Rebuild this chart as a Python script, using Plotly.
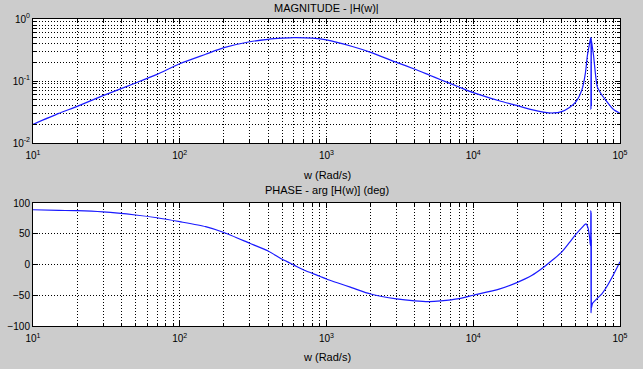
import plotly.graph_objects as go

# ---- data ----
w_mag = [10, 15, 20, 30, 50, 70, 100, 150, 200, 300, 400, 500, 600, 800, 1000,
         1500, 2000, 3000, 4000, 5000, 6000, 8000, 10000, 15000, 20000, 25000, 30000,
         35000, 40000, 45000, 50000, 55000, 58000, 60000, 62000, 63000, 63300, 63400, 63500,
         63600, 63700, 63800, 63900, 64500, 66000, 70000, 75000, 80000, 90000, 100000]
mag = [0.020, 0.030, 0.039, 0.058, 0.093, 0.128, 0.19, 0.27, 0.345, 0.43, 0.47,
       0.49, 0.50, 0.49, 0.46, 0.36, 0.29, 0.20, 0.155, 0.125, 0.105, 0.080,
       0.065, 0.048, 0.040, 0.0345, 0.0315, 0.0305, 0.032, 0.037, 0.046, 0.072, 0.13, 0.26, 0.40, 0.48,
       0.50, 0.035, 0.50, 0.30, 0.49, 0.04, 0.45, 0.38, 0.26, 0.081, 0.060, 0.049,
       0.035, 0.030]

w_ph = [10, 15, 20, 30, 50, 70, 100, 150, 200, 300, 400, 500, 600, 700, 900,
        1000, 1500, 2000, 3000, 4000, 5000, 6000, 8000, 10000, 15000, 20000,
        25000, 30000, 35000, 40000, 45000, 50000, 55000, 58500, 60500, 62000, 63000, 63300, 63500,
        63600, 63700, 63800, 63900, 64200, 65000, 66500, 70000, 75000, 80000, 90000,
        100000]
phase = [89, 88, 87.5, 85.5, 80.5, 76, 69.6, 61.5, 52, 34.5, 22, 8.4, -1, -9,
         -19, -23.6, -38, -48, -56, -59.3, -60.5, -59.3, -55.5, -50, -40, -29,
         -18, -5, 8, 20, 35, 49, 60, 66, 60, 45, 30, 88, -79, 85, -75, 40, -70, -68, -63,
         -60.5, -55, -48, -38.7, -17, 4.5]

x_tickvals = [10, 100, 1000, 10000, 100000]
x_ticktext = ["10<sup>1</sup>", "10<sup>2</sup>", "10<sup>3</sup>", "10<sup>4</sup>", "10<sup>5</sup>"]
ymag_tickvals = [0.01, 0.1, 1]
ymag_ticktext = ["10<sup>-2</sup>", "10<sup>-1</sup>", "10<sup>0</sup>"]
yph_tickvals = [-100, -50, 0, 50, 100]

title_mag = "MAGNITUDE - |H(w)|"
title_ph = "PHASE - arg [H(w)] (deg)"
xlabel = "w (Rad/s)"

LINE = "#1a1aff"
FONT = "Liberation Sans, Arial, sans-serif"
DASH = "1px,2px"
BG = "#cccccc"

fig = go.Figure()
fig.add_trace(go.Scatter(x=w_mag, y=mag, mode="lines",
                         line=dict(color=LINE, width=1.2, shape="spline", smoothing=0.6),
                         xaxis="x", yaxis="y", showlegend=False))
fig.add_trace(go.Scatter(x=w_ph, y=phase, mode="lines",
                         line=dict(color=LINE, width=1.2, shape="spline", smoothing=0.6),
                         xaxis="x2", yaxis="y2", showlegend=False))

common = dict(showline=True, linecolor="black", linewidth=1, mirror="ticks",
              ticks="inside", ticklen=5, tickcolor="black", automargin=False,
              showgrid=True, gridcolor="black", gridwidth=1, griddash=DASH,
              zeroline=False, tickfont=dict(size=10, color="black", family=FONT))

logminor = dict(ticks="inside", ticklen=3, tickcolor="black", showgrid=True,
                gridcolor="black", griddash=DASH, gridwidth=1, dtick="D1")

top_dom = [1 - 124 / 307, 1]
bot_dom = [0, 123 / 307]

fig.update_layout(
    width=643, height=369,
    margin=dict(l=33, r=23, t=19, b=43, autoexpand=False),
    paper_bgcolor=BG, plot_bgcolor="white",
    font=dict(family=FONT, size=10, color="black"),
    xaxis=dict(type="log", range=[1, 5], domain=[0, 1], anchor="y", ticklabelstandoff=3,
               tickvals=x_tickvals, ticktext=x_ticktext, minor=logminor, **common),
    yaxis=dict(type="log", range=[-2, 0], domain=top_dom, anchor="x",
               tickvals=ymag_tickvals, ticktext=ymag_ticktext, minor=logminor, **common),
    xaxis2=dict(type="log", range=[1, 5], domain=[0, 1], anchor="y2", ticklabelstandoff=3,
                tickvals=x_tickvals, ticktext=x_ticktext, minor=logminor, **common),
    yaxis2=dict(range=[-100, 100], domain=bot_dom, anchor="x2",
                tickvals=yph_tickvals, **common),
    annotations=[
        dict(text=title_mag, x=0.5, y=1 + 11 / 307, xref="paper", yref="paper",
             showarrow=False, font=dict(size=11), xanchor="center", yanchor="middle"),
        dict(text=xlabel, x=0.5, y=(326 - 175) / 307, xref="paper", yref="paper",
             showarrow=False, font=dict(size=11), xanchor="center", yanchor="middle"),
        dict(text=title_ph, x=0.5, y=(326 - 190) / 307, xref="paper", yref="paper",
             showarrow=False, font=dict(size=11), xanchor="center", yanchor="middle"),
        dict(text=xlabel, x=0.5, y=(326 - 357) / 307, xref="paper", yref="paper",
             showarrow=False, font=dict(size=11), xanchor="center", yanchor="middle"),
    ],
)

fig.write_html("out.html", config={"displayModeBar": False},
               post_script="document.body.style.margin='0';"
                           "document.body.style.background='" + BG + "';")
